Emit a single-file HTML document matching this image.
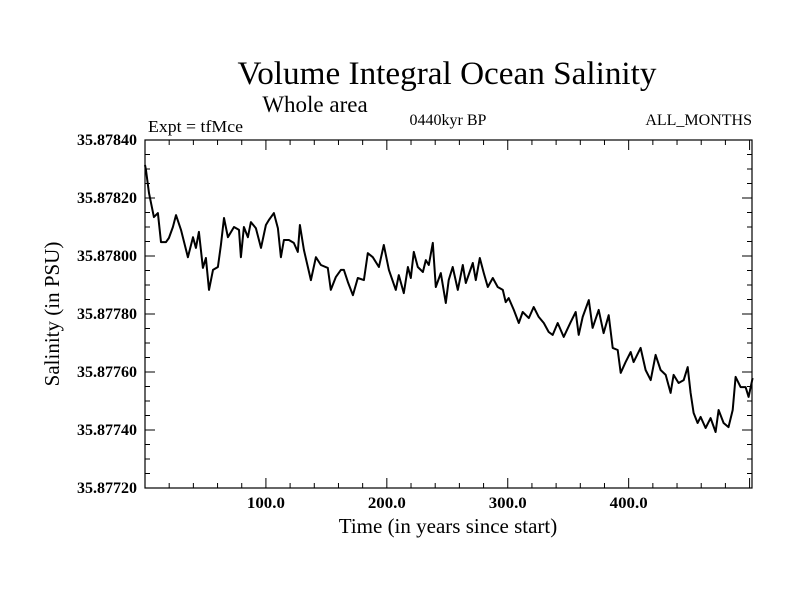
<!DOCTYPE html>
<html><head><meta charset="utf-8"><style>
body{margin:0;background:#fff;}
svg{display:block;font-family:"Liberation Serif",serif;}
</style></head><body>
<svg id="chart" width="800" height="600" viewBox="0 0 800 600">
<rect width="800" height="600" fill="#fff"/>
<text x="447" y="84" font-size="33" text-anchor="middle" textLength="419" lengthAdjust="spacingAndGlyphs">Volume Integral Ocean Salinity</text>
<text x="315" y="112" font-size="23" text-anchor="middle">Whole area</text>
<text x="148" y="132" font-size="17" textLength="95" lengthAdjust="spacingAndGlyphs">Expt = tfMce</text>
<text x="448" y="125" font-size="16" text-anchor="middle">0440kyr BP</text>
<text x="752" y="125" font-size="16" text-anchor="end">ALL_MONTHS</text>
<text x="448" y="533" font-size="21" text-anchor="middle">Time (in years since start)</text>
<text transform="translate(59,314) rotate(-90)" font-size="21" text-anchor="middle">Salinity (in PSU)</text>
<g id="axes"></g>
<path id="series" fill="none" stroke="#000" stroke-width="2" stroke-linejoin="round"/>
<rect x="145" y="140" width="607" height="348" fill="none" stroke="#000" stroke-width="1.2"/>
</svg>
<script>
const years=[0,0.8,3.3,7.4,10.7,13.2,17.4,19.8,23.1,25.6,29.8,35.5,39.7,42.1,44.6,47.9,50.4,52.9,56.2,60.3,62.8,65.3,68.6,73.6,77.7,79.3,81.8,85.1,87.6,91.7,95.9,100.0,102.5,106.6,109.9,112.4,114.9,119.0,123.1,126.4,128.1,131.4,137.2,141.3,145.5,151.2,153.7,157.9,162.0,164.5,167.8,171.9,176.0,181.0,184.3,188.4,193.4,197.5,201.7,207.4,209.9,214.0,217.4,219.8,222.3,225.6,229.8,232.2,234.7,238.0,240.5,244.6,248.8,251.2,254.5,258.7,262.8,265.3,271.1,273.6,276.9,280.2,283.5,287.6,291.7,295.9,298.3,300.8,305.0,309.1,312.4,317.4,321.5,325.6,329.8,333.9,337.2,341.3,346.3,352.1,356.2,358.7,362.0,367.0,370.2,375.2,379.3,383.5,386.8,390.9,393.4,397.5,401.7,404.1,409.9,414.0,418.2,422.3,426.4,430.6,434.7,437.2,441.3,445.5,448.8,451.2,453.7,457.0,459.5,463.6,467.8,471.9,474.4,478.5,482.6,486.0,488.4,492.6,496.7,499.2,502.5];
const salinity=[35.878314,35.878296,35.878217,35.878134,35.878148,35.878048,35.878048,35.878062,35.878100,35.878141,35.878090,35.877996,35.878065,35.878028,35.878083,35.877959,35.877993,35.877883,35.877952,35.877962,35.878038,35.878131,35.878065,35.878100,35.878090,35.877996,35.878100,35.878065,35.878117,35.878096,35.878028,35.878107,35.878124,35.878148,35.878096,35.877996,35.878055,35.878055,35.878045,35.878014,35.878107,35.878021,35.877917,35.877996,35.877969,35.877959,35.877883,35.877928,35.877952,35.877952,35.877910,35.877865,35.877924,35.877917,35.878010,35.877996,35.877962,35.878038,35.877952,35.877883,35.877934,35.877872,35.877962,35.877924,35.878014,35.877962,35.877945,35.877986,35.877969,35.878045,35.877893,35.877941,35.877838,35.877917,35.877962,35.877883,35.877969,35.877907,35.877976,35.877917,35.877993,35.877941,35.877893,35.877924,35.877893,35.877883,35.877841,35.877855,35.877814,35.877769,35.877807,35.877786,35.877824,35.877790,35.877769,35.877738,35.877728,35.877769,35.877721,35.877772,35.877807,35.877728,35.877790,35.877848,35.877752,35.877814,35.877734,35.877796,35.877683,35.877676,35.877597,35.877634,35.877669,35.877634,35.877683,35.877607,35.877572,35.877659,35.877607,35.877590,35.877528,35.877590,35.877562,35.877572,35.877617,35.877528,35.877459,35.877424,35.877445,35.877407,35.877441,35.877393,35.877469,35.877424,35.877410,35.877469,35.877583,35.877548,35.877548,35.877514,35.877579];
const yTickValues=[35.8772,35.8774,35.8776,35.8778,35.8780,35.8782,35.8784];
const yTickLabels=["35.87720","35.87740","35.87760","35.87780","35.87800","35.87820","35.87840"];
const xTickValues=[100,200,300,400];
const xTickLabels=["100.0","200.0","300.0","400.0"];

const X0=145,X1=752,Y0=140,Y1=488,XMIN=0,XMAX=502,YMIN=35.8772,YMAX=35.8784;
function sx(v){return X0+(v-XMIN)/(XMAX-XMIN)*(X1-X0);}
function sy(v){return Y1-(v-YMIN)/(YMAX-YMIN)*(Y1-Y0);}
const NS="http://www.w3.org/2000/svg";
const axes=document.getElementById('axes');
function line(x1,y1,x2,y2){const l=document.createElementNS(NS,'line');l.setAttribute('x1',x1);l.setAttribute('y1',y1);l.setAttribute('x2',x2);l.setAttribute('y2',y2);l.setAttribute('stroke','#000');l.setAttribute('stroke-width','1');


axes.appendChild(l);}
function text(x,y,s,anchor,len){const t=document.createElementNS(NS,'text');t.setAttribute('x',x);t.setAttribute('y',y);t.setAttribute('font-size','16');t.setAttribute('font-weight','bold');t.setAttribute('text-anchor',anchor);
if(len){t.setAttribute('textLength',len);t.setAttribute('lengthAdjust','spacingAndGlyphs');}
t.textContent=s;


axes.appendChild(t);}
for(let i=0;i<yTickValues.length;i++){
  const y=sy(yTickValues[i]);
  line(X0,y,X0+10,y);line(X1,y,X1-10,y);
  text(137,y+5,yTickLabels[i],'end',60);
  if(i<yTickValues.length-1){
    const step=(yTickValues[i+1]-yTickValues[i])/4;
    for(let k=1;k<4;k++){const ym=sy(yTickValues[i]+k*step);line(X0,ym,X0+5,ym);line(X1,ym,X1-5,ym);}
  }
}
for(let v=20;v<XMAX;v+=20){const x=sx(v);const maj=v%100===0;const L=maj?10:5;line(x,Y1,x,Y1-L);line(x,Y0,x,Y0+L);}
for(let i=0;i<xTickValues.length;i++){text(sx(xTickValues[i]),508,xTickLabels[i],'middle',38);}
let d='';
for(let i=0;i<years.length;i++){d+=(i?'L':'M')+sx(years[i]).toFixed(1)+' '+sy(salinity[i]).toFixed(1);}
document.getElementById('series').setAttribute('d',d);
</script>
</body></html>
